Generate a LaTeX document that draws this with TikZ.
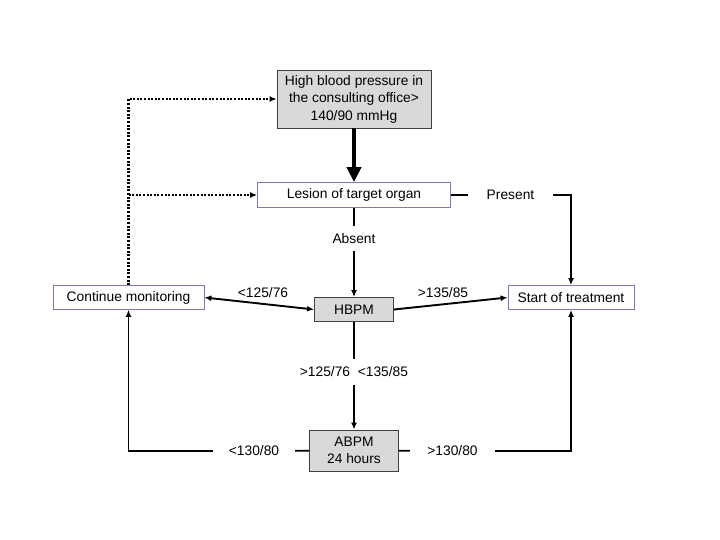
\documentclass[tikz,border=0pt]{standalone}
\usepackage{fontspec}
\setmainfont{Liberation Sans}
\usetikzlibrary{arrows.meta, positioning}
\definecolor{boxgray}{HTML}{D9D9D9}
\definecolor{boxedge}{HTML}{404040}
\definecolor{blueedge}{HTML}{7B7BB8}
\newcommand{\diagfont}{\fontsize{13.8}{17.5}\selectfont}

\begin{document}
\begin{tikzpicture}[x=1pt, y=-1pt,
        >={Latex[length=7pt,width=6pt]},
        link/.style={line width=1.9pt},
        arrow/.style={->, line width=1.9pt},
        twoway/.style={<->, line width=1.9pt},
        bigarrow/.style={-{Triangle[length=15pt,width=14pt]}, line width=4.2pt},
        dotline/.style={->, line width=2.2pt, dash pattern=on 2pt off 1.6pt},
        graybox/.style={draw=boxedge, fill=boxgray, line width=0.8pt, align=center, font=\diagfont, inner sep=2pt},
        whitebox/.style={draw=blueedge, fill=white, line width=0.8pt, align=center, font=\diagfont, minimum height=24pt, inner sep=2pt},
        tag/.style={inner sep=0pt, font=\diagfont}
    ]
        \useasboundingbox (0,0) rectangle (720,540);

        \node (office) [graybox, minimum width=154pt, minimum height=58pt] at (354,99) {High blood pressure in\\the consulting office>\\140/90 mmHg};
        \node (lesion) [whitebox, minimum width=193pt, minimum height=25pt] at (354,195) {Lesion of target organ};
        \node (hbpm) [graybox, minimum width=79pt, minimum height=24pt] at (354,309.5) {HBPM};
        \node (cont) [whitebox, minimum width=151pt] at (128.5,297.5) {Continue monitoring};
        \node (start) [whitebox, minimum width=126pt] at (571,297.5) {Start of treatment};
        \node (abpm) [graybox, minimum width=89pt, minimum height=41pt] at (354,450.5) {ABPM\\24 hours};

        % labels on the lines
        \node (absent) [tag, minimum height=25pt] at (354,238.5) {Absent};
        \node (present) [tag, minimum width=85pt] at (510.5,195) {Present};
        \node (lowhbpm) [tag] at (263,292.5) {<125/76};
        \node (highhbpm) [tag] at (443,292.5) {>135/85};
        \node (mid) [tag, minimum height=25pt] at (354,372) {>125/76\ \ <135/85};
        \node (abpmlow) [tag, minimum width=82pt] at (254,451) {<130/80};
        \node (abpmhigh) [tag, minimum width=85pt] at (452.5,451) {>130/80};
        \coordinate (split) at (cont.north |- lesion.west);

        \draw [bigarrow] (office) -- (lesion);
        \draw [link] (lesion) -- (absent);
        \draw [arrow] (absent) -- (hbpm);
        \draw [link] (lesion) -- (present);
        \draw [arrow] (present.east) -| (start.north);
        \draw [twoway] (cont.east) -- (hbpm.west);
        \draw [arrow] (hbpm.east) -- (start.west);
        \draw [link] (hbpm) -- (mid);
        \draw [arrow] (mid) -- (abpm);
        \draw [link] (abpm) -- (abpmlow);
        \draw [arrow] (abpmlow.west) -| (cont.south);
        \draw [link] (abpm) -- (abpmhigh);
        \draw [arrow] (abpmhigh.east) -| (start.south);
        \draw [dotline] (cont.north) |- (office.west);
        \draw [dotline] (split) -- (lesion.west);
    \end{tikzpicture}
\end{document}
